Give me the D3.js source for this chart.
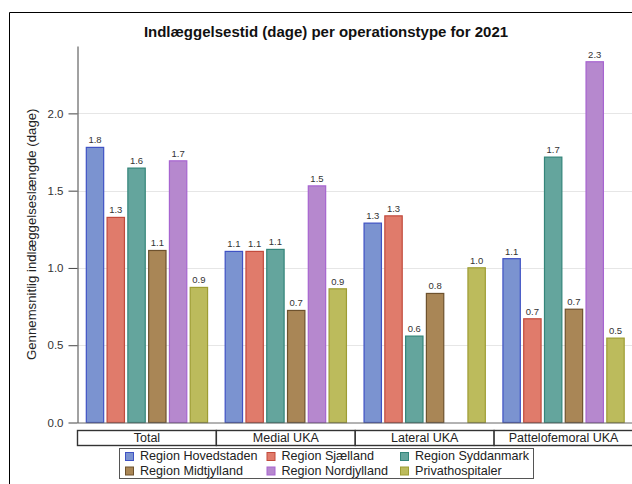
<!DOCTYPE html>
<html>
<head>
<meta charset="utf-8">
<script src="https://cdn.jsdelivr.net/npm/d3@7"></script>
<style>
    body { margin: 0; background: #fff; }
    svg { display: block; font-family: "Liberation Sans", Arial, sans-serif; }
</style>
</head>
<body>
<div id="chart"></div>
<script>
/*global d3*/

// operation types along the x axis
var operations = ["Total", "Medial UKA", "Lateral UKA", "Pattelofemoral UKA"];

// one entry per region, values in the same order as operations
var regions = ["Region Hovedstaden", "Region Sjælland", "Region Syddanmark",
    "Region Midtjylland", "Region Nordjylland", "Privathospitaler"];

var hovedstaden = [1.78, 1.107, 1.29, 1.06];
var sjaelland = [1.327, 1.107, 1.337, 0.671];
var syddanmark = [1.646, 1.12, 0.559, 1.717];
var midtjylland = [1.113, 0.725, 0.835, 0.733];
var nordjylland = [1.693, 1.531, null, 2.334];
var privat = [0.874, 0.865, 1.001, 0.546];

var yTicks = [0, 0.5, 1.0, 1.5, 2.0];

(function () {
    "use strict";

    var width = 632,
        height = 484,
        series = [hovedstaden, sjaelland, syddanmark, midtjylland, nordjylland, privat],
        fills = ["#7b93d0", "#e07b6b", "#64a59d", "#a98656", "#b688ce", "#bcbb5c"],
        strokes = ["#3f52c4", "#c24a3c", "#34857a", "#6e522e", "#a764d0", "#9e9d34"],
        plot = {left: 77.5, right: 633, top: 46, bottom: 422.5},
        fmt = d3.format(".1f"),
        svg,
        x,
        xInner,
        y,
        rows,
        legend;

    svg = d3.select("#chart").append("svg")
        .attr("width", width)
        .attr("height", height);

    // outer frame, runs off the right and bottom edge like the original
    svg.append("path")
        .attr("d", "M9.5," + height + "V12.5H" + width)
        .attr("fill", "none")
        .attr("stroke", "#000");

    x = d3.scaleBand()
        .domain(operations)
        .range([plot.left, plot.right]);

    xInner = d3.scaleBand()
        .domain(d3.range(regions.length))
        .range([0, x.bandwidth()])
        .paddingInner(0.116)
        .paddingOuter(0.4);

    y = d3.scaleLinear()
        .domain([0, 2.436])
        .range([plot.bottom, plot.top]);

    // grid lines
    svg.append("g")
        .selectAll("line")
        .data(yTicks.slice(1))
        .join("line")
        .attr("x1", plot.left)
        .attr("x2", plot.right)
        .attr("y1", function (d) { return Math.round(y(d)) + 0.5; })
        .attr("y2", function (d) { return Math.round(y(d)) + 0.5; })
        .attr("stroke", "#e6e6e6");

    // y axis
    svg.append("g")
        .attr("transform", "translate(" + plot.left + ",0)")
        .call(d3.axisLeft(y).tickValues(yTicks).tickFormat(fmt).tickSize(9).tickSizeOuter(0))
        .call(function (g) {
            g.select(".domain").attr("stroke", "#444");
            g.selectAll(".tick line").attr("stroke", "#444");
            g.selectAll(".tick text")
                .attr("x", -14)
                .attr("fill", "#333")
                .attr("font-size", 11.5)
                .attr("font-family", "Liberation Sans, Arial, sans-serif");
        });

    svg.append("text")
        .attr("transform", "translate(31," + ((plot.top + plot.bottom) / 2) + ") rotate(-90)")
        .attr("text-anchor", "middle")
        .attr("dy", "0.35em")
        .attr("font-size", 13.2)
        .attr("fill", "#222")
        .text("Gennemsnitlig indlæggelseslængde (dage)");

    // bars
    series.forEach(function (values, s) {
        var data = values.map(function (v, i) {
            return {op: operations[i], value: v};
        }).filter(function (d) {
            return d.value !== null;
        });
        var g = svg.append("g");

        g.selectAll("rect")
            .data(data)
            .join("rect")
            .attr("x", function (d) { return x(d.op) + xInner(s) + 0.5; })
            .attr("y", function (d) { return y(d.value); })
            .attr("width", xInner.bandwidth() - 1)
            .attr("height", function (d) { return y(0) - y(d.value); })
            .attr("fill", fills[s])
            .attr("stroke", strokes[s])
            .attr("stroke-width", 1.2);

        g.selectAll("text")
            .data(data)
            .join("text")
            .attr("x", function (d) { return x(d.op) + xInner(s) + xInner.bandwidth() / 2; })
            .attr("y", function (d) { return y(d.value) - 4; })
            .attr("text-anchor", "middle")
            .attr("font-size", 9.5)
            .attr("fill", "#333")
            .text(function (d) { return fmt(d.value); });
    });

    // baseline
    svg.append("line")
        .attr("x1", plot.left)
        .attr("x2", plot.right)
        .attr("y1", plot.bottom + 0.5)
        .attr("y2", plot.bottom + 0.5)
        .attr("stroke", "#666");

    // category label boxes
    rows = svg.append("g")
        .selectAll("g")
        .data(operations)
        .join("g");

    rows.append("rect")
        .attr("x", function (d) { return x(d); })
        .attr("y", 430.5)
        .attr("width", x.bandwidth())
        .attr("height", 15)
        .attr("fill", "#fff")
        .attr("stroke", "#333")
        .attr("stroke-width", 1.4);

    rows.append("text")
        .attr("x", function (d) { return x(d) + x.bandwidth() / 2; })
        .attr("y", 438)
        .attr("dy", "0.35em")
        .attr("text-anchor", "middle")
        .attr("font-size", 12.5)
        .attr("fill", "#222")
        .text(function (d) { return d; });

    // legend
    legend = svg.append("g");

    legend.append("rect")
        .attr("x", 119.5)
        .attr("y", 448.5)
        .attr("width", 414)
        .attr("height", 30)
        .attr("fill", "#fff")
        .attr("stroke", "#555");

    legend = legend.selectAll("g")
        .data(regions)
        .join("g")
        .attr("transform", function (d, i) {
            var cols = [125, 266.5, 400];
            return "translate(" + cols[i % 3] + "," + (i < 3 ? 456 : 470.5) + ")";
        });

    legend.append("rect")
        .attr("x", 0.5)
        .attr("y", -3.5)
        .attr("width", 8)
        .attr("height", 8)
        .attr("fill", function (d, i) { return fills[i]; })
        .attr("stroke", function (d, i) { return strokes[i]; });

    legend.append("text")
        .attr("x", 15)
        .attr("dy", "0.35em")
        .attr("font-size", 12.6)
        .attr("fill", "#222")
        .text(function (d) { return d; });

    svg.append("text")
        .attr("x", 326)
        .attr("y", 32)
        .attr("dy", "0.35em")
        .attr("text-anchor", "middle")
        .attr("font-size", 15)
        .attr("font-weight", "bold")
        .attr("fill", "#111")
        .text("Indlæggelsestid (dage) per operationstype for 2021");
}());
</script>
</body>
</html>
